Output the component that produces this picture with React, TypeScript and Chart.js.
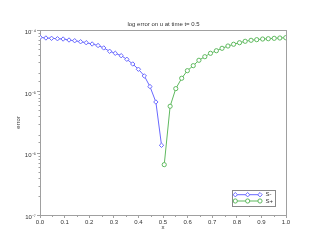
import React, { useEffect, useRef } from 'react';
import { Chart, registerables } from 'chart.js';

Chart.register(...registerables);

const chartTitle = 'log error on u at time t= 0.5';
const xAxisLabel = 'x';
const yAxisLabel = 'error';
const seriesLabels = ['S-', 'S+'];

const xMinus = [0.000, 0.024, 0.047, 0.071, 0.094, 0.118, 0.141, 0.165, 0.188, 0.212, 0.236,
  0.259, 0.283, 0.306, 0.330, 0.353, 0.377, 0.400, 0.424, 0.447, 0.471, 0.494];
const errMinus = [7.61e-5, 7.42e-5, 7.33e-5, 7.22e-5, 7.14e-5, 6.88e-5, 6.70e-5, 6.45e-5, 6.22e-5,
  5.93e-5, 5.60e-5, 5.12e-5, 4.52e-5, 4.19e-5, 3.83e-5, 3.35e-5, 2.81e-5, 2.31e-5, 1.80e-5,
  1.21e-5, 6.80e-6, 1.35e-6];

const xPlus = [0.505, 0.529, 0.552, 0.576, 0.599, 0.623, 0.646, 0.670, 0.693, 0.717, 0.740,
  0.764, 0.787, 0.811, 0.834, 0.858, 0.881, 0.905, 0.928, 0.952, 0.975, 0.999];
const errPlus = [6.55e-7, 5.80e-6, 1.12e-5, 1.65e-5, 2.19e-5, 2.64e-5, 3.23e-5, 3.69e-5, 4.19e-5,
  4.61e-5, 5.05e-5, 5.50e-5, 5.87e-5, 6.22e-5, 6.56e-5, 6.81e-5, 6.97e-5, 7.14e-5, 7.22e-5,
  7.33e-5, 7.42e-5, 7.51e-5];

const X_MIN = 0;
const X_MAX = 1;
const X_STEP = 0.05;
const Y_MIN = 1e-7;
const Y_MAX = 1e-4;

const BLUE = 'rgb(105,105,255)';
const GREEN = 'rgb(95,185,95)';
const FRAME = '#a0a0a0';
const TEXT = '#333333';
const FONT = "'Liberation Sans', Arial, sans-serif";

const SUP: Record<string, string> = {
  '-': '\u207B', '0': '\u2070', '1': '\u00B9', '2': '\u00B2', '3': '\u00B3', '4': '\u2074',
  '5': '\u2075', '6': '\u2076', '7': '\u2077', '8': '\u2078', '9': '\u2079',
};

const isPow10 = (v: number) => {
  const l = Math.log10(v);
  return Math.abs(l - Math.round(l)) < 1e-9;
};
const isTenth = (v: number) => Math.abs(v * 10 - Math.round(v * 10)) < 1e-6;

function drawMarker(ctx: CanvasRenderingContext2D, style: string, x: number, y: number, r: number) {
  ctx.beginPath();
  if (style === 'rectRot') {
    ctx.moveTo(x - r, y);
    ctx.lineTo(x, y - r);
    ctx.lineTo(x + r, y);
    ctx.lineTo(x, y + r);
    ctx.closePath();
  } else {
    ctx.arc(x, y, r, 0, Math.PI * 2);
  }
  ctx.fill();
  ctx.stroke();
}

const decorPlugin = {
  id: 'decor',
  beforeDatasetsDraw(chart: any) {
    const { ctx, chartArea: a } = chart;
    ctx.save();
    ctx.strokeStyle = FRAME;
    ctx.lineWidth = 1;
    ctx.strokeRect(a.left + 0.5, a.top + 0.5, a.right - a.left, a.bottom - a.top);
    ctx.beginPath();
    const ys = chart.scales.y;
    ys.ticks.forEach((t: any) => {
      if (isPow10(t.value)) return;
      const p = Math.round(ys.getPixelForValue(t.value)) + 0.5;
      ctx.moveTo(a.left - 1.5, p);
      ctx.lineTo(a.left + 0.5, p);
    });
    const xs = chart.scales.x;
    xs.ticks.forEach((t: any) => {
      if (isTenth(t.value)) return;
      const p = Math.round(xs.getPixelForValue(t.value)) + 0.5;
      ctx.moveTo(p, a.bottom);
      ctx.lineTo(p, a.bottom + 2);
    });
    ctx.stroke();
    ctx.restore();
  },
  afterDraw(chart: any) {
    const { ctx, chartArea: a } = chart;
    const left = a.right - 53.5;
    const top = a.bottom - 24.5;
    ctx.save();
    ctx.fillStyle = '#ffffff';
    ctx.strokeStyle = '#888888';
    ctx.lineWidth = 1;
    ctx.fillRect(left, top, 43, 16);
    ctx.strokeRect(left, top, 43, 16);
    chart.data.datasets.forEach((ds: any, i: number) => {
      const y = top + 4.2 + i * 6.3;
      const x1 = left + 2.8;
      const x2 = left + 27.5;
      ctx.strokeStyle = ds.borderColor;
      ctx.beginPath();
      ctx.moveTo(x1, y);
      ctx.lineTo(x2, y);
      ctx.stroke();
      ctx.fillStyle = '#ffffff';
      [x1, (x1 + x2) / 2, x2].forEach((mx) => drawMarker(ctx, ds.pointStyle, mx, y, ds.pointRadius));
      ctx.fillStyle = TEXT;
      ctx.font = `6px ${FONT}`;
      ctx.textBaseline = 'middle';
      ctx.textAlign = 'left';
      ctx.fillText(ds.label, left + 33, y);
    });
    ctx.restore();
  },
};

export default function App() {
  const ref = useRef<HTMLCanvasElement | null>(null);

  useEffect(() => {
    if (!ref.current) return;
    const chart = new Chart(ref.current, {
      type: 'line',
      data: {
        datasets: [
          {
            label: seriesLabels[0],
            data: xMinus.map((x, i) => ({ x, y: errMinus[i] })),
            borderColor: BLUE,
            backgroundColor: '#ffffff',
            pointBackgroundColor: '#ffffff',
            pointBorderColor: BLUE,
            pointStyle: 'rectRot',
            pointRadius: 2.2,
            pointBorderWidth: 1,
            borderWidth: 1,
            tension: 0,
          },
          {
            label: seriesLabels[1],
            data: xPlus.map((x, i) => ({ x, y: errPlus[i] })),
            borderColor: GREEN,
            backgroundColor: '#ffffff',
            pointBackgroundColor: '#ffffff',
            pointBorderColor: GREEN,
            pointStyle: 'circle',
            pointRadius: 2.1,
            pointBorderWidth: 1,
            borderWidth: 1,
            tension: 0,
          },
        ],
      },
      options: {
        responsive: false,
        animation: false,
        events: [],
        layout: { padding: 0 },
        plugins: {
          legend: { display: false },
          tooltip: { enabled: false },
          title: {
            display: true,
            text: chartTitle,
            color: TEXT,
            font: { family: FONT, size: 6, weight: 'normal' },
            padding: { top: 20.7, bottom: 2.1 },
          },
        },
        scales: {
          x: {
            type: 'linear',
            position: 'bottom',
            min: X_MIN,
            max: X_MAX,
            afterFit: (s: any) => { s.height = 31; },
            ticks: {
              stepSize: X_STEP,
              autoSkip: false,
              maxRotation: 0,
              padding: 0.5,
              color: TEXT,
              font: { family: FONT, size: 6 },
              callback: (v: any) => (isTenth(Number(v)) ? Number(v).toFixed(1) : ''),
            },
            grid: {
              drawOnChartArea: false,
              drawTicks: true,
              tickLength: 3,
              tickColor: (c: any) => (c.tick && isTenth(c.tick.value) ? FRAME : 'rgba(0,0,0,0)'),
            },
            border: { display: false },
            title: {
              display: true,
              text: xAxisLabel,
              color: TEXT,
              font: { family: FONT, size: 6 },
              padding: { top: 0, bottom: 14.7 },
            },
          },
          y: {
            type: 'logarithmic',
            position: 'left',
            min: Y_MIN,
            max: Y_MAX,
            afterFit: (s: any) => { s.width = 40; },
            ticks: {
              autoSkip: false,
              padding: 1,
              labelOffset: 2.5,
              color: TEXT,
              font: { family: FONT, size: 6 },
              callback: (v: any) => {
                const n = Number(v);
                if (!isPow10(n)) return '';
                const e = String(Math.round(Math.log10(n)));
                return '10' + e.split('').map((c) => SUP[c] || c).join('');
              },
            },
            grid: {
              drawOnChartArea: false,
              drawTicks: true,
              tickLength: 3,
              tickColor: (c: any) => (c.tick && isPow10(c.tick.value) ? FRAME : 'rgba(0,0,0,0)'),
            },
            border: { display: false },
            title: {
              display: true,
              text: yAxisLabel,
              color: TEXT,
              font: { family: FONT, size: 6 },
              padding: { top: 14.7, bottom: 0 },
            },
          },
          yRight: {
            type: 'linear',
            position: 'right',
            display: true,
            afterFit: (s: any) => { s.width = 41; },
            ticks: { display: false },
            grid: { display: false, drawTicks: false },
            border: { display: false },
          },
        },
      } as any,
      plugins: [decorPlugin],
    });
    return () => chart.destroy();
  }, []);

  return (
    <div style={{ position: 'absolute', left: 0, top: 0, width: 327, height: 246, background: '#ffffff' }}>
      <canvas ref={ref} width={327} height={246} style={{ display: 'block' }} />
    </div>
  );
}
